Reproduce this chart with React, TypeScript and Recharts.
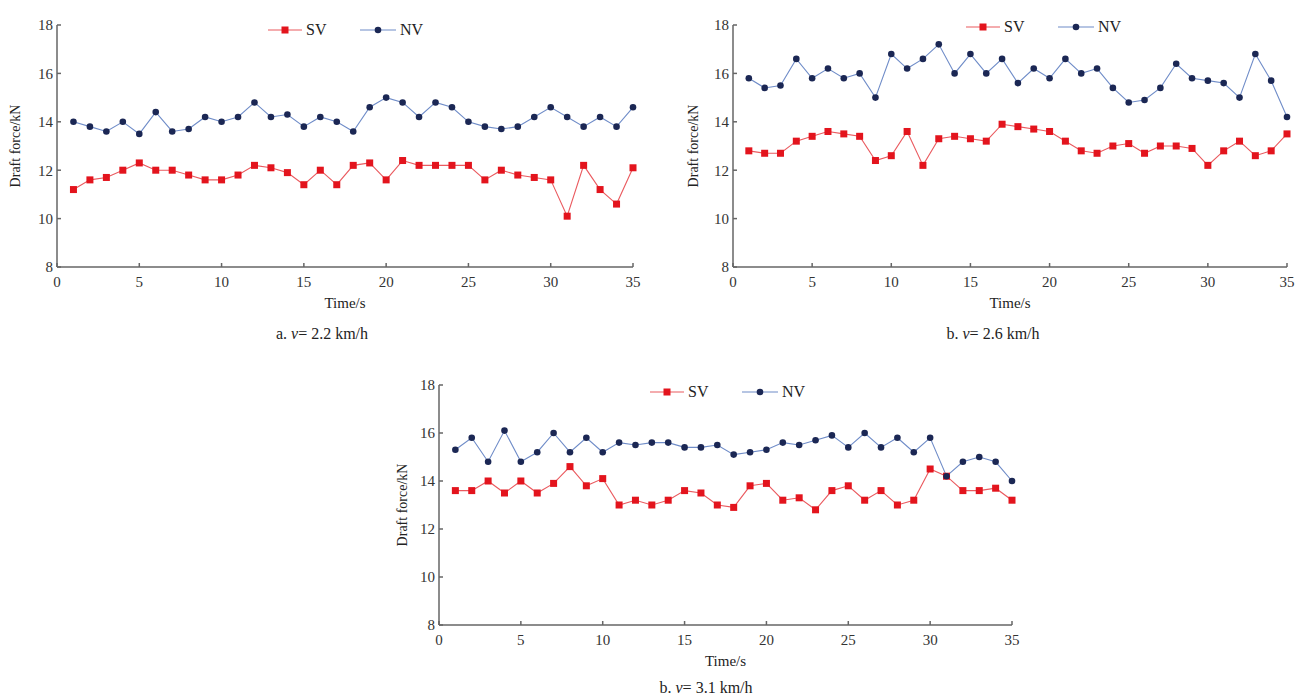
import React from "react";
import { LineChart, Line, XAxis, YAxis } from "recharts";

const time = [1,2,3,4,5,6,7,8,9,10,11,12,13,14,15,16,17,18,19,20,21,22,23,24,25,26,27,28,29,30,31,32,33,34,35];
const xTicks = [0,5,10,15,20,25,30,35];
const yTicks = [8,10,12,14,16,18];

const aSV = [11.2,11.6,11.7,12.0,12.3,12.0,12.0,11.8,11.6,11.6,11.8,12.2,12.1,11.9,11.4,12.0,11.4,12.2,12.3,11.6,12.4,12.2,12.2,12.2,12.2,11.6,12.0,11.8,11.7,11.6,10.1,12.2,11.2,10.6,12.1];
const aNV = [14.0,13.8,13.6,14.0,13.5,14.4,13.6,13.7,14.2,14.0,14.2,14.8,14.2,14.3,13.8,14.2,14.0,13.6,14.6,15.0,14.8,14.2,14.8,14.6,14.0,13.8,13.7,13.8,14.2,14.6,14.2,13.8,14.2,13.8,14.6];
const bSV = [12.8,12.7,12.7,13.2,13.4,13.6,13.5,13.4,12.4,12.6,13.6,12.2,13.3,13.4,13.3,13.2,13.9,13.8,13.7,13.6,13.2,12.8,12.7,13.0,13.1,12.7,13.0,13.0,12.9,12.2,12.8,13.2,12.6,12.8,13.5];
const bNV = [15.8,15.4,15.5,16.6,15.8,16.2,15.8,16.0,15.0,16.8,16.2,16.6,17.2,16.0,16.8,16.0,16.6,15.6,16.2,15.8,16.6,16.0,16.2,15.4,14.8,14.9,15.4,16.4,15.8,15.7,15.6,15.0,16.8,15.7,14.2];
const cSV = [13.6,13.6,14.0,13.5,14.0,13.5,13.9,14.6,13.8,14.1,13.0,13.2,13.0,13.2,13.6,13.5,13.0,12.9,13.8,13.9,13.2,13.3,12.8,13.6,13.8,13.2,13.6,13.0,13.2,14.5,14.2,13.6,13.6,13.7,13.2];
const cNV = [15.3,15.8,14.8,16.1,14.8,15.2,16.0,15.2,15.8,15.2,15.6,15.5,15.6,15.6,15.4,15.4,15.5,15.1,15.2,15.3,15.6,15.5,15.7,15.9,15.4,16.0,15.4,15.8,15.2,15.8,14.2,14.8,15.0,14.8,14.0];

const FONT = "'Liberation Serif', 'DejaVu Serif', serif";
const SV_LINE = "#ea5a5f";
const SV_DOT = "#e3141d";
const NV_LINE = "#6f8cc8";
const NV_DOT = "#1b2754";
const AXIS = "#666";

const build = (sv: number[], nv: number[]) => time.map((t, i) => ({ t, SV: sv[i], NV: nv[i] }));

const squareDot = (props: any) => {
  const { cx, cy, index } = props;
  if (cx == null || cy == null) return <g key={"s" + index} />;
  return <rect key={"s" + index} x={cx - 3.5} y={cy - 3.5} width={7} height={7} fill={SV_DOT} />;
};
const circleDot = (props: any) => {
  const { cx, cy, index } = props;
  if (cx == null || cy == null) return <g key={"c" + index} />;
  return <circle key={"c" + index} cx={cx} cy={cy} r={3.3} fill={NV_DOT} />;
};

const LegendBox = ({ left, top }: { left: number; top: number }) => (
  <div style={{ position: "absolute", left, top, display: "flex", alignItems: "center", fontFamily: FONT, fontSize: 16, color: "#222" }}>
    <svg width={34} height={12}>
      <line x1={0} y1={6} x2={34} y2={6} stroke={SV_LINE} strokeWidth={1.2} />
      <rect x={13.5} y={2.5} width={7} height={7} fill={SV_DOT} />
    </svg>
    <span style={{ marginLeft: 4, width: 54 }}>SV</span>
    <svg width={36} height={12}>
      <line x1={0} y1={6} x2={36} y2={6} stroke={NV_LINE} strokeWidth={1.2} />
      <circle cx={18} cy={6} r={3.3} fill={NV_DOT} />
    </svg>
    <span style={{ marginLeft: 4 }}>NV</span>
  </div>
);

const Caption = ({ center, top, letter, speed }: { center: number; top: number; letter: string; speed: string }) => (
  <div style={{ position: "absolute", left: center - 80, width: 160, top, textAlign: "center", fontFamily: FONT, fontSize: 16, color: "#222" }}>
    {letter}. <i>v</i>=&nbsp;{speed} km/h
  </div>
);

type PanelProps = {
  left: number; top: number; width: number; height: number;
  yAxisWidth: number; marginRight: number; marginBottom: number;
  labelOffset: number; sv: number[]; nv: number[];
};

const Panel = (p: PanelProps) => {
  const data = build(p.sv, p.nv);
  const tickStyle = { fontFamily: FONT, fontSize: 15, fill: "#333" };
  return (
    <div style={{ position: "absolute", left: p.left, top: p.top }}>
      <LineChart width={p.width} height={p.height} data={data}
        margin={{ top: 25, right: p.marginRight, bottom: p.marginBottom, left: 0 }}>
        <XAxis dataKey="t" type="number" domain={[0, 35]} ticks={xTicks} interval={0}
          height={30} stroke={AXIS} strokeWidth={1.5} tickSize={-4} tickMargin={13}
          tick={tickStyle}
          label={{ value: "Time/s", position: "bottom", offset: 0, style: { fontFamily: FONT, fontSize: 15, fill: "#222" } }} />
        <YAxis type="number" domain={[8, 18]} ticks={yTicks} interval={0} width={p.yAxisWidth}
          stroke={AXIS} strokeWidth={1.5} tickSize={-4} tickMargin={8} tick={tickStyle}
          label={{ value: "Draft force/kN", angle: -90, position: "insideLeft", offset: p.labelOffset, style: { textAnchor: "middle", fontFamily: FONT, fontSize: 14, fill: "#222" } }} />
        <Line type="linear" dataKey="SV" stroke={SV_LINE} strokeWidth={1.1} dot={squareDot} activeDot={false} isAnimationActive={false} />
        <Line type="linear" dataKey="NV" stroke={NV_LINE} strokeWidth={1.1} dot={circleDot} activeDot={false} isAnimationActive={false} />
      </LineChart>
    </div>
  );
};

export default function App() {
  return (
    <div style={{ position: "absolute", left: 0, top: 0, width: 1298, height: 698, background: "#fff", overflow: "hidden" }}>
      <Panel left={0} top={0} width={650} height={320} yAxisWidth={57} marginRight={17} marginBottom={23} labelOffset={15} sv={aSV} nv={aNV} />
      <Panel left={680} top={0} width={618} height={320} yAxisWidth={53} marginRight={11} marginBottom={23} labelOffset={13} sv={bSV} nv={bNV} />
      <Panel left={390} top={360} width={640} height={320} yAxisWidth={49} marginRight={18} marginBottom={25} labelOffset={12} sv={cSV} nv={cNV} />
      <LegendBox left={268} top={21} />
      <LegendBox left={966} top={18} />
      <LegendBox left={650} top={383} />
      <Caption center={322} top={325} letter="a" speed="2.2" />
      <Caption center={993} top={325} letter="b" speed="2.6" />
      <Caption center={706} top={679} letter="b" speed="3.1" />
    </div>
  );
}
